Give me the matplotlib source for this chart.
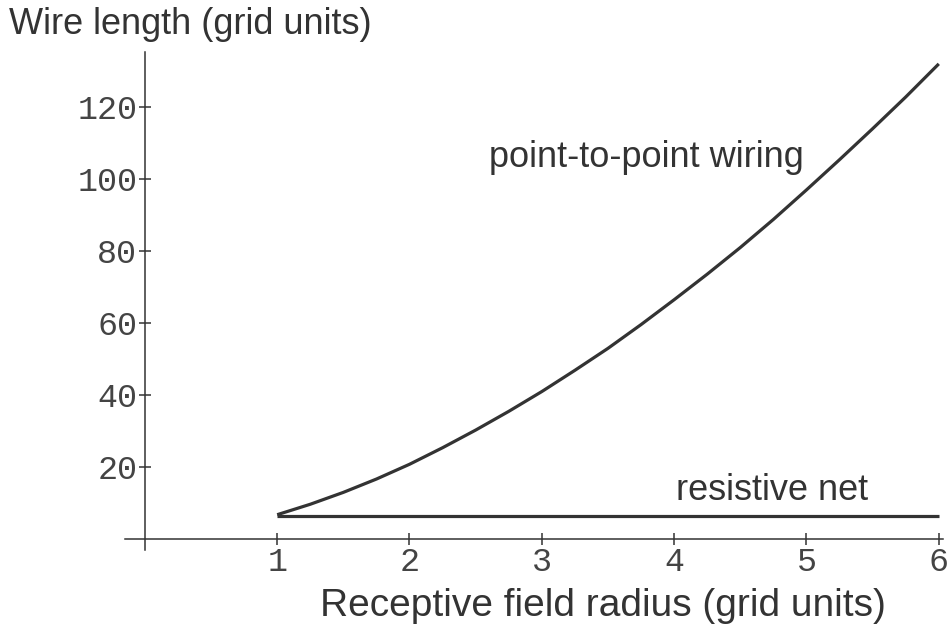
import matplotlib
matplotlib.use('Agg')
import matplotlib.pyplot as plt

# values
radius = [1.0, 1.25, 1.5, 1.75, 2.0, 2.25, 2.5, 2.75, 3.0, 3.25, 3.5,
          3.75, 4.0, 4.25, 4.5, 4.75, 5.0, 5.25, 5.5, 5.75, 6.0]
point_to_point = [6.8, 9.7, 13.0, 16.7, 20.8, 25.4, 30.3, 35.5, 41.0, 46.9, 53.0,
                  59.6, 66.5, 73.6, 81.0, 88.8, 97.0, 105.4, 114.0, 122.8, 132.0]
resistive_radius = [1.0, 6.0]
resistive_net = [6.4, 6.4]

x_ticks = [1, 2, 3, 4, 5, 6]
y_ticks = [20, 40, 60, 80, 100, 120]

ink = '#333333'
sans = 'Liberation Sans'
mono = 'Liberation Mono'

fig = plt.figure(figsize=(9.52, 6.34), dpi=100, facecolor='white')
ax = fig.add_axes([0.1313, 0.1325, 0.859, 0.7855])
ax.set_xlim(-0.15, 6.03)
ax.set_ylim(-3, 135.3)

ax.plot(radius, point_to_point, color=ink, lw=2.3, solid_capstyle='butt',
        solid_joinstyle='round')
ax.plot(resistive_radius, resistive_net, color=ink, lw=2.3, solid_capstyle='butt')

# axes cross at the origin
for side in ('top', 'right'):
    ax.spines[side].set_visible(False)
ax.spines['left'].set_position(('data', 0))
ax.spines['bottom'].set_position(('data', 0))
for side in ('left', 'bottom'):
    ax.spines[side].set_color(ink)
    ax.spines[side].set_linewidth(1.1)

ax.set_xticks(x_ticks)
ax.set_yticks(y_ticks)
ax.set_xticklabels([str(t) for t in x_ticks], family=mono, fontsize=24, color='#444444')
ax.set_yticklabels([str(t) for t in y_ticks], family=mono, fontsize=24, color='#444444')
ax.tick_params(direction='inout', length=9, width=1.1, color=ink)
ax.tick_params(axis='x', pad=1)
ax.tick_params(axis='y', pad=1)

# axis titles
fig.text(0.009, 0.962, 'Wire length (grid units)', family=sans, fontsize=26,
         color=ink, ha='left', va='center')
fig.text(0.633, 0.044, 'Receptive field radius (grid units)', family=sans,
         fontsize=28, color=ink, ha='center', va='center')

# curve labels
ax.text(3.79, 106, 'point-to-point wiring', family=sans, fontsize=26, color=ink,
        ha='center', va='center')
ax.text(4.74, 13.6, 'resistive net', family=sans, fontsize=26, color=ink,
        ha='center', va='center')

fig.savefig('out.png', dpi=100, facecolor='white')
